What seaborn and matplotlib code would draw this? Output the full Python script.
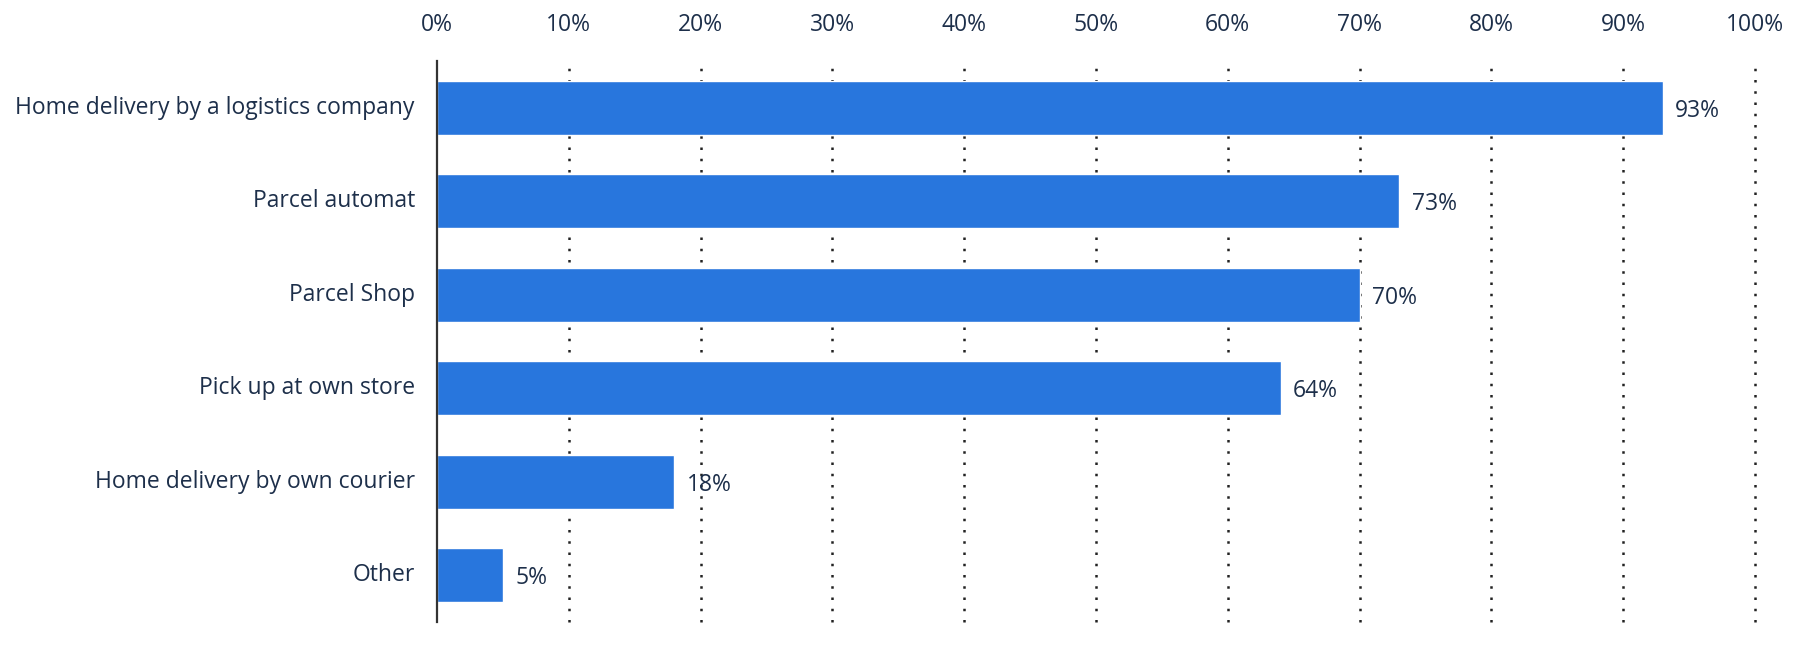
import matplotlib
matplotlib.use("Agg")
import matplotlib.pyplot as plt
import matplotlib.transforms as mtransforms
import seaborn as sns
import pandas as pd
from matplotlib.ticker import MultipleLocator, FuncFormatter

categories = ["Home delivery by a logistics company", "Parcel automat", "Parcel Shop",
              "Pick up at own store", "Home delivery by own courier", "Other"]
values = [93, 73, 70, 64, 18, 5]
value_labels = ["93%", "73%", "70%", "64%", "18%", "5%"]

sns.set_theme(style="white")
plt.rcParams['font.family'] = ['Open Sans', 'DejaVu Sans']
text_color = "#1d2f4a"
bar_color = "#2876dd"

df = pd.DataFrame({"category": categories, "value": values})

fig = plt.figure(figsize=(18.07, 6.45), dpi=100)
ax = fig.add_axes([437/1807, 1 - 622/645, (1755 - 437)/1807, (622 - 61)/645])

sns.barplot(data=df, y="category", x="value", color=bar_color, width=0.58,
            saturation=1, ax=ax, zorder=3)

ax.set_xlim(0, 100)
ax.set_ylim(5.5, -0.5)
ax.xaxis.set_major_locator(MultipleLocator(10))
ax.xaxis.set_major_formatter(FuncFormatter(lambda v, p: f"{int(v)}%"))
ax.xaxis.tick_top()
ax.tick_params(axis="x", length=0, pad=17, labelsize=16.5, labelcolor=text_color)
ax.tick_params(axis="y", length=0, pad=16, labelsize=16.5, labelcolor=text_color)
ax.set_xlabel("")
ax.set_ylabel("")

offset = mtransforms.ScaledTranslation(0, 3/100, fig.dpi_scale_trans)
for lbl in ax.get_yticklabels():
    lbl.set_transform(lbl.get_transform() + offset)

for s in ["top", "right", "bottom"]:
    ax.spines[s].set_visible(False)
ax.spines["left"].set_color("#333333")
ax.spines["left"].set_linewidth(1.6)
ax.spines["left"].set_zorder(4)

for xv in range(10, 101, 10):
    ax.axvline(xv, color="#222222", linestyle=(0, (1, 3.5)), linewidth=1.8,
               zorder=1, clip_on=False)

for i, (v, lab) in enumerate(zip(values, value_labels)):
    ax.annotate(lab, xy=(v, i), xytext=(9, 0), textcoords="offset points",
                va="center_baseline", ha="left", fontsize=16.5, color=text_color)

fig.savefig("out.png", dpi=100)
